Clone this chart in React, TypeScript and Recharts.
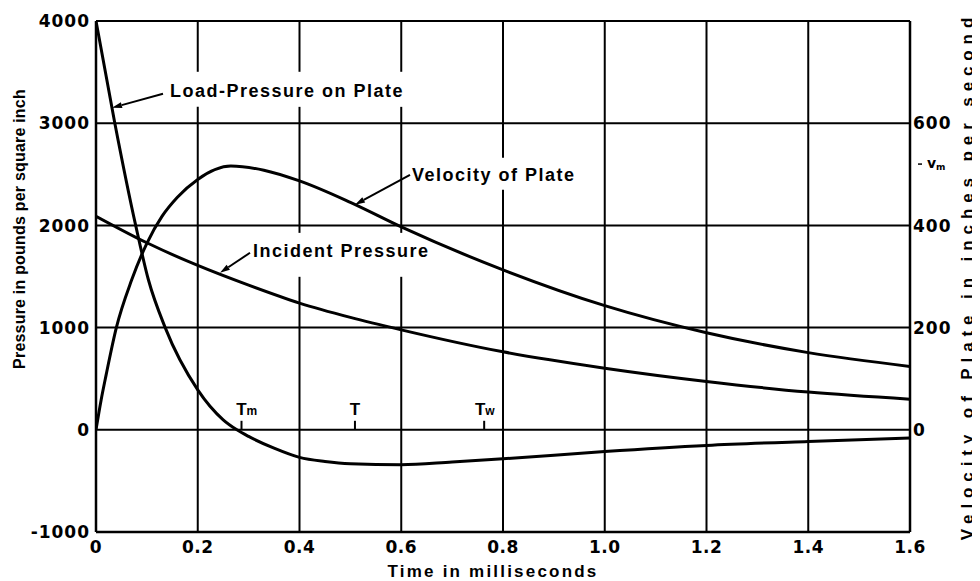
import React from 'react';
import {
  LineChart,
  Line,
  XAxis,
  YAxis,
  CartesianGrid,
  ReferenceLine,
  ReferenceDot,
} from 'recharts';

const TICK_FONT = "'DejaVu Sans', 'Liberation Sans', sans-serif";
const TEXT_FONT = "'Liberation Sans', Arial, sans-serif";

// ---- axis ticks ----
const timeTicks = [0, 0.2, 0.4, 0.6, 0.8, 1.0, 1.2, 1.4, 1.6];
const pressureTicks = [-1000, 0, 1000, 2000, 3000, 4000];
const velocityTicks = [0, 200, 400, 600];
const vmVelocity = 520;

// ---- Load-Pressure on Plate (psi) ----
const loadTime = [0, 0.037, 0.078, 0.103, 0.136, 0.2, 0.25, 0.277, 0.3, 0.35, 0.4, 0.45, 0.5, 0.6, 0.7, 0.8, 1.0, 1.2, 1.4, 1.6];
const loadPressure = [4000, 3000, 2000, 1468, 1000, 391, 98, 0, -65, -180, -270, -310, -332, -342, -315, -284, -212, -153, -114, -81];

// ---- Incident Pressure (psi) ----
const incidentTime = [0, 0.1, 0.2, 0.3, 0.4, 0.5, 0.6, 0.8, 1.0, 1.2, 1.4, 1.6];
const incidentPressure = [2090, 1830, 1608, 1415, 1240, 1100, 978, 763, 603, 473, 369, 300];

// ---- Velocity of Plate (in/s) ----
const velocityTime = [0, 0.01, 0.02, 0.04, 0.07, 0.1, 0.13, 0.16, 0.2, 0.265, 0.33, 0.4, 0.5, 0.6, 0.8, 1.0, 1.2, 1.4, 1.6];
const velocityValue = [0, 58, 108, 200, 293, 365, 418, 455, 490, 516, 508, 487, 445, 397, 313, 243, 190, 151, 124];

// ---- time markers on the zero line ----
const markerNames = ['T', 'T', 'T'];
const markerSubs = ['m', '', 'w'];
const markerTimes = [0.286, 0.509, 0.763];

// ---- curve annotations ----
const annotationTexts = ['Load-Pressure on Plate', 'Incident Pressure', 'Velocity of Plate'];
const annotationAnchors = [
  { t: 0.1455, p: 3317 },
  { t: 0.3086, p: 1751 },
  { t: 0.6211, p: 2495 },
];
const annotationArrows = [
  { from: { t: 0.1317, p: 3288 }, to: { t: 0.0315, p: 3151 } },
  { from: { t: 0.3027, p: 1732 }, to: { t: 0.2437, p: 1536 } },
  { from: { t: 0.6172, p: 2495 }, to: { t: 0.509, p: 2202 } },
];
// vertical gridline gaps behind the annotation lettering: grid time, pressure range
const gridGaps = [
  { t: 0.2, pLow: 3160, pHigh: 3503 },
  { t: 0.4, pLow: 3160, pHigh: 3503 },
  { t: 0.6, pLow: 3160, pHigh: 3503 },
  { t: 0.4, pLow: 1497, pHigh: 1927 },
  { t: 0.6, pLow: 1497, pHigh: 1927 },
  { t: 0.8, pLow: 2349, pHigh: 2661 },
];

const T_MIN = 0;
const T_MAX = 1.6;
const P_MIN = -1000;
const P_MAX = 4000;

const loadData = loadTime.map((t, i) => ({ t, p: loadPressure[i] }));
const incidentData = incidentTime.map((t, i) => ({ t, p: incidentPressure[i] }));
const velocityData = velocityTime.map((t, i) => ({ t, v: velocityValue[i] }));

const CHART_W = 972;
const CHART_H = 573;
const MARGIN = { top: 13, right: 0, bottom: 0, left: 0 };
const LEFT_AXIS_W = 88;
const RIGHT_AXIS_W = 70;
const X_AXIS_H = 49;
const PLOT_LEFT = MARGIN.left + LEFT_AXIS_W;
const PLOT_W = CHART_W - MARGIN.left - MARGIN.right - LEFT_AXIS_W - RIGHT_AXIS_W;

const tickStyle = { fontFamily: TICK_FONT, fontWeight: 'bold' as const, fill: '#000' };
const textStyle = { fontFamily: TEXT_FONT, fontWeight: 'bold' as const, fill: '#000' };

const VerticalGridLine = (props: any) => {
  const x1 = Number(props.x1);
  const x2 = Number(props.x2);
  const y1 = Number(props.y1);
  const y2 = Number(props.y2);
  if ([x1, y1, x2, y2].some((n) => isNaN(n))) return null;
  const tRaw = T_MIN + ((x1 - PLOT_LEFT) / PLOT_W) * (T_MAX - T_MIN);
  const top = Math.min(y1, y2);
  const bottom = Math.max(y1, y2);
  const toY = (p: number) => top + ((P_MAX - p) / (P_MAX - P_MIN)) * (bottom - top);
  const gaps = gridGaps
    .filter((g) => Math.abs(g.t - tRaw) < 0.03)
    .map((g) => [toY(g.pHigh), toY(g.pLow)])
    .sort((a, b) => a[0] - b[0]);
  const segs: number[][] = [];
  let cur = top;
  gaps.forEach(([a, b]) => {
    if (a > cur) segs.push([cur, a]);
    cur = Math.max(cur, b);
  });
  if (cur < bottom) segs.push([cur, bottom]);
  return (
    <g key={props.key}>
      {segs.map(([a, b], i) => (
        <line key={i} x1={x1} x2={x2} y1={a} y2={b} stroke="#000" strokeWidth={2} />
      ))}
    </g>
  );
};

const LeftTick = (props: any) => {
  const { x, y, payload } = props;
  return (
    <text x={x} y={y} dy="0.36em" textAnchor="end" fontSize={17} letterSpacing={1} {...tickStyle}>
      {String(payload.value)}
    </text>
  );
};

const RightTick = (props: any) => {
  const { x, y, payload } = props;
  if (payload.value === vmVelocity) {
    return (
      <g>
        <line x1={x + 5} x2={x + 9} y1={y} y2={y} stroke="#000" strokeWidth={1.5} />
        <text x={x + 14} y={y + 4} fontSize={14} {...tickStyle}>v</text>
        <text x={x + 23} y={y + 6} fontSize={9} {...tickStyle}>m</text>
      </g>
    );
  }
  return (
    <text x={x} y={y} dy="0.36em" textAnchor="start" fontSize={17} letterSpacing={1} {...tickStyle}>
      {String(payload.value)}
    </text>
  );
};

const BottomTick = (props: any) => {
  const { x, y, payload } = props;
  const v = payload.value as number;
  const label = v === 0 ? '0' : v.toFixed(1);
  return (
    <text x={x} y={y} dy={15} textAnchor="middle" fontSize={17} letterSpacing={0.5} {...tickStyle}>
      {label}
    </text>
  );
};

const ArrowShape = (props: any) => {
  const { x1, y1, x2, y2 } = props;
  if ([x1, y1, x2, y2].some((n) => typeof n !== 'number' || isNaN(n))) return null;
  const dx = x2 - x1;
  const dy = y2 - y1;
  const len = Math.sqrt(dx * dx + dy * dy) || 1;
  const ux = dx / len;
  const uy = dy / len;
  const hl = 10;
  const hw = 3;
  const bx = x2 - ux * hl;
  const by = y2 - uy * hl;
  const px = -uy * hw;
  const py = ux * hw;
  return (
    <g>
      <line x1={x1} y1={y1} x2={bx} y2={by} stroke="#000" strokeWidth={2} />
      <polygon points={`${x2},${y2} ${bx + px},${by + py} ${bx - px},${by - py}`} fill="#000" />
    </g>
  );
};

const makeTextShape = (text: string) => (props: any) => {
  const { cx, cy } = props;
  return (
    <text x={cx} y={cy} dy="0.36em" textAnchor="start" fontSize={18} letterSpacing={1.5} {...textStyle}>
      {text}
    </text>
  );
};

const makeMarkerShape = (name: string, sub: string) => (props: any) => {
  const { cx, cy } = props;
  const tOffset = sub === 'w' ? -4 : 0;
  return (
    <g>
      <line x1={cx} y1={cy} x2={cx} y2={cy - 9} stroke="#000" strokeWidth={2} />
      <text x={cx + tOffset} y={cy - 15} textAnchor="middle" fontSize={17} {...textStyle}>
        {name}
      </text>
      {sub ? (
        <text x={cx + tOffset + 5} y={cy - 15} textAnchor="start" fontSize={12} {...textStyle}>
          {sub}
        </text>
      ) : null}
    </g>
  );
};

const LeftTitle = (props: any) => {
  const vb = props.viewBox || { x: 0, y: 13, width: 88, height: 511 };
  const cx = vb.x + 11;
  const cy = vb.y + 208;
  return (
    <text x={cx} y={cy} transform={`rotate(-90 ${cx} ${cy})`} textAnchor="middle" dy="0.36em" fontSize={16} letterSpacing={0.2} {...textStyle}>
      Pressure in pounds per square inch
    </text>
  );
};

const RightTitle = (props: any) => {
  const vb = props.viewBox || { x: 902, y: 13, width: 70, height: 511 };
  const cx = vb.x + 57;
  const cy = vb.y + 255;
  return (
    <text x={cx} y={cy} transform={`rotate(-90 ${cx} ${cy})`} textAnchor="middle" dy="0.36em" fontSize={17} letterSpacing={5.9} {...textStyle}>
      Velocity of Plate in inches per second
    </text>
  );
};

const BottomTitle = (props: any) => {
  const vb = props.viewBox || { x: 88, y: 524, width: 814, height: 49 };
  const cx = vb.x + vb.width / 2 - 10;
  const cy = vb.y + 45;
  return (
    <text x={cx} y={cy} textAnchor="middle" fontSize={17} letterSpacing={2.2} {...textStyle}>
      Time in milliseconds
    </text>
  );
};

export default function App() {
  return (
    <div style={{ width: CHART_W, height: CHART_H, background: '#fff' }}>
      <LineChart width={CHART_W} height={CHART_H} margin={MARGIN}>
        <CartesianGrid
          yAxisId="p"
          stroke="#000"
          strokeWidth={2}
          strokeDasharray=""
          vertical={VerticalGridLine}
        />
        <XAxis
          dataKey="t"
          type="number"
          domain={[T_MIN, T_MAX]}
          ticks={timeTicks}
          allowDataOverflow
          height={X_AXIS_H}
          tickSize={0}
          tickMargin={6}
          tickLine={false}
          axisLine={{ stroke: '#000', strokeWidth: 2.5 }}
          tick={<BottomTick />}
          interval={0}
          label={(p: any) => <BottomTitle {...p} />}
        />
        <YAxis
          yAxisId="p"
          type="number"
          domain={[P_MIN, P_MAX]}
          ticks={pressureTicks}
          allowDataOverflow
          width={LEFT_AXIS_W}
          tickSize={0}
          tickMargin={6}
          tickLine={false}
          axisLine={{ stroke: '#000', strokeWidth: 2.5 }}
          tick={<LeftTick />}
          interval={0}
          label={(p: any) => <LeftTitle {...p} />}
        />
        <YAxis
          yAxisId="v"
          orientation="right"
          type="number"
          domain={[-200, 800]}
          ticks={[...velocityTicks, vmVelocity]}
          allowDataOverflow
          width={RIGHT_AXIS_W}
          tickSize={0}
          tickMargin={3}
          tickLine={false}
          axisLine={{ stroke: '#000', strokeWidth: 2.5 }}
          tick={<RightTick />}
          interval={0}
          label={(p: any) => <RightTitle {...p} />}
        />

        <Line
          data={loadData}
          dataKey="p"
          yAxisId="p"
          type="monotone"
          stroke="#000"
          strokeWidth={3}
          dot={false}
          isAnimationActive={false}
        />
        <Line
          data={incidentData}
          dataKey="p"
          yAxisId="p"
          type="monotone"
          stroke="#000"
          strokeWidth={3}
          dot={false}
          isAnimationActive={false}
        />
        <Line
          data={velocityData}
          dataKey="v"
          yAxisId="v"
          type="monotone"
          stroke="#000"
          strokeWidth={3}
          dot={false}
          isAnimationActive={false}
        />

        {annotationArrows.map((a, i) => (
          <ReferenceLine
            key={`arrow-${i}`}
            yAxisId="p"
            segment={[
              { x: a.from.t, y: a.from.p },
              { x: a.to.t, y: a.to.p },
            ]}
            shape={ArrowShape}
          />
        ))}

        {annotationTexts.map((txt, i) => (
          <ReferenceDot
            key={`txt-${i}`}
            yAxisId="p"
            x={annotationAnchors[i].t}
            y={annotationAnchors[i].p}
            r={1}
            shape={makeTextShape(txt)}
          />
        ))}

        {markerTimes.map((t, i) => (
          <ReferenceDot
            key={`mk-${i}`}
            yAxisId="p"
            x={t}
            y={0}
            r={1}
            shape={makeMarkerShape(markerNames[i], markerSubs[i])}
          />
        ))}
      </LineChart>
    </div>
  );
}
